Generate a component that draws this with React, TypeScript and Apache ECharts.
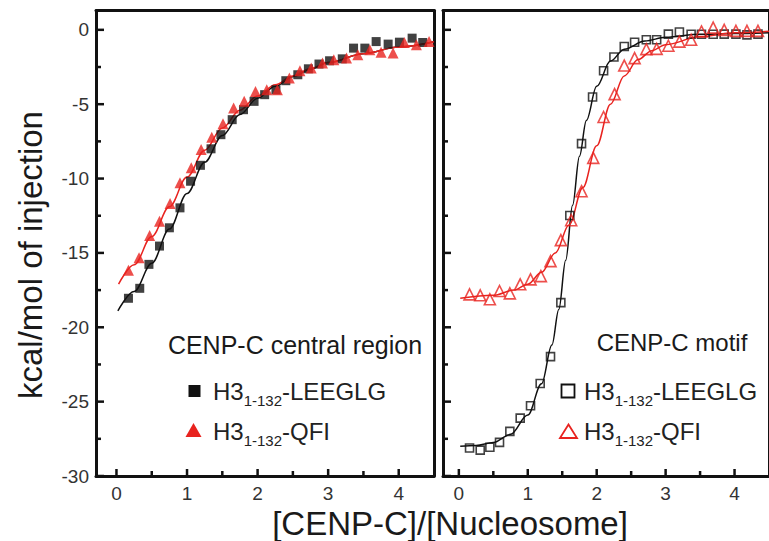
import React, { useEffect, useRef } from 'react';
import * as echarts from 'echarts';

// ---- Data ----
// Left panel: CENP-C central region
const centralLEEGLG: [number, number][] = [
  [0.17, -18.05], [0.33, -17.38], [0.46, -15.77], [0.61, -14.54], [0.75, -13.31],
  [0.9, -11.97], [1.05, -10.18], [1.19, -9.11], [1.34, -8.0], [1.48, -7.05],
  [1.64, -6.04], [1.8, -5.37], [1.95, -4.81], [2.1, -4.36], [2.26, -4.03],
  [2.4, -3.42], [2.57, -3.02], [2.72, -2.62], [2.87, -2.3], [3.02, -2.08],
  [3.2, -1.95], [3.36, -1.23], [3.52, -1.23], [3.68, -0.79], [3.85, -0.96],
  [4.01, -0.83], [4.19, -0.56], [4.34, -0.85],
];
const centralQFI: [number, number][] = [
  [0.17, -16.17], [0.32, -15.32], [0.47, -13.83], [0.61, -12.87], [0.76, -11.68],
  [0.9, -10.29], [1.06, -9.28], [1.2, -8.05], [1.35, -7.23], [1.51, -6.31],
  [1.66, -5.26], [1.81, -4.81], [1.97, -4.14], [2.13, -4.03], [2.28, -4.03],
  [2.45, -3.24], [2.6, -2.75], [2.76, -2.57], [2.92, -2.23], [3.08, -2.01],
  [3.26, -1.9], [3.42, -1.68], [3.59, -1.34], [3.75, -1.5], [3.92, -1.56],
  [4.08, -0.85], [4.25, -1.01], [4.43, -0.79],
];
const centralLEEGLGFit: [number, number][] = [
  [0.02, -18.9], [0.25, -17.6], [0.5, -15.7], [0.75, -13.4], [1.0, -11.0],
  [1.25, -8.9], [1.5, -7.1], [1.75, -5.7], [2.0, -4.6], [2.25, -3.8],
  [2.5, -3.15], [2.75, -2.65], [3.0, -2.2], [3.5, -1.6], [4.0, -1.15], [4.5, -0.8],
];
const centralQFIFit: [number, number][] = [
  [0.03, -17.1], [0.25, -15.8], [0.5, -13.9], [0.75, -11.9], [1.0, -9.9],
  [1.25, -8.1], [1.5, -6.6], [1.75, -5.4], [2.0, -4.45], [2.25, -3.7],
  [2.5, -3.1], [2.75, -2.6], [3.0, -2.2], [3.5, -1.6], [4.0, -1.15], [4.5, -0.8],
];

// Right panel: CENP-C motif
const motifLEEGLG: [number, number][] = [
  [0.155, -28.12], [0.31, -28.26], [0.45, -28.07], [0.59, -27.74], [0.74, -27.0],
  [0.89, -26.11], [1.04, -25.28], [1.18, -23.78], [1.33, -21.97], [1.48, -18.34],
  [1.61, -12.48], [1.78, -7.65], [1.94, -4.52], [2.1, -2.75], [2.25, -1.83],
  [2.4, -1.12], [2.55, -0.83], [2.72, -0.67], [2.87, -0.67], [3.04, -0.29],
  [3.2, -0.15], [3.37, -0.3], [3.52, -0.3], [3.69, -0.3], [3.85, -0.29],
  [4.02, -0.29], [4.18, -0.34], [4.34, -0.29],
];
const motifQFI: [number, number][] = [
  [0.155, -17.79], [0.31, -17.85], [0.45, -18.12], [0.59, -17.56], [0.74, -17.72],
  [0.89, -17.11], [1.04, -16.78], [1.19, -16.56], [1.33, -15.55], [1.48, -14.14],
  [1.63, -12.8], [1.78, -10.85], [1.95, -8.61], [2.1, -5.86], [2.26, -4.32],
  [2.4, -2.4], [2.55, -1.9], [2.72, -1.3], [2.87, -1.28], [3.04, -1.07],
  [3.2, -0.79], [3.37, -0.67], [3.52, -0.11], [3.69, 0.15], [3.85, 0.0],
  [4.02, -0.07], [4.18, -0.07], [4.34, -0.07],
];
const motifLEEGLGFit: [number, number][] = [
  [0.02, -28.0], [0.25, -27.95], [0.5, -27.75], [0.75, -27.2], [1.0, -25.9],
  [1.2, -23.8], [1.35, -21.2], [1.45, -18.8], [1.55, -15.5], [1.65, -11.8],
  [1.75, -8.5], [1.85, -6.1], [2.0, -3.8], [2.2, -2.1], [2.4, -1.3],
  [2.7, -0.75], [3.0, -0.5], [3.5, -0.3], [4.0, -0.25], [4.5, -0.2],
];
const motifQFIFit: [number, number][] = [
  [0.02, -18.05], [0.5, -17.85], [0.8, -17.5], [1.0, -17.1], [1.2, -16.3],
  [1.4, -15.0], [1.6, -13.1], [1.8, -10.6], [2.0, -7.8], [2.2, -5.0],
  [2.4, -3.1], [2.6, -2.0], [2.8, -1.4], [3.0, -1.0], [3.5, -0.45],
  [4.0, -0.2], [4.5, -0.1],
];

// Tick values
const xMajorTicks = [0, 1, 2, 3, 4];
const xMinorTicks = [0.5, 1.5, 2.5, 3.5];
const yMajorTicks = [0, -5, -10, -15, -20, -25, -30];
const yMinorTicks = [-2.5, -7.5, -12.5, -17.5, -22.5, -27.5];

const xTitle = '[CENP-C]/[Nucleosome]';
const yTitle = 'kcal/mol of injection';
const leftLabel = 'CENP-C central region';
const rightLabel = 'CENP-C motif';

const FONT = '"Liberation Sans", Arial, Helvetica, sans-serif';
const BLACK = '#111111';
const RED = '#e8231f';

const Y_MIN = -30;
const Y_MAX = 1.3;
const X_MAX = 4.5;
const LEFT_X_MIN = -0.29;
const RIGHT_X_MIN = -0.23;

// tick items: [value, kind (0 = x, 1 = y), length in px]
function tickData() {
  const out: number[][] = [];
  xMajorTicks.forEach((v) => out.push([v, 0, 7]));
  xMinorTicks.forEach((v) => out.push([v, 0, 5]));
  yMajorTicks.forEach((v) => out.push([v, 1, 8]));
  yMinorTicks.forEach((v) => out.push([v, 1, 5]));
  return out;
}

function tickSeries(xIdx: number, yIdx: number, xMin: number) {
  return {
    type: 'custom',
    xAxisIndex: xIdx,
    yAxisIndex: yIdx,
    coordinateSystem: 'cartesian2d',
    data: tickData(),
    z: 10,
    renderItem: (_params: any, api: any) => {
      const v = api.value(0);
      const kind = api.value(1);
      const len = api.value(2);
      if (kind === 0) {
        const p = api.coord([v, Y_MIN]);
        return {
          type: 'line',
          shape: { x1: p[0], y1: p[1], x2: p[0], y2: p[1] - len },
          style: { stroke: BLACK, lineWidth: 2.5 },
        };
      }
      const p = api.coord([xMin, v]);
      return {
        type: 'line',
        shape: { x1: p[0], y1: p[1], x2: p[0] + len, y2: p[1] },
        style: { stroke: BLACK, lineWidth: 2.5 },
      };
    },
  };
}

function bottomXAxis(grid: number, min: number) {
  return {
    type: 'value', gridIndex: grid, position: 'bottom', min, max: X_MAX,
    axisLine: { show: true, onZero: false, lineStyle: { color: BLACK, width: 3 } },
    axisTick: { show: false },
    axisLabel: {
      show: true, customValues: xMajorTicks, color: '#333', fontSize: 19, fontFamily: FONT, margin: 8,
      formatter: (v: number) => (Number.isInteger(v) ? String(v) : ''),
    },
    splitLine: { show: false },
  };
}
function topXAxis(grid: number, min: number) {
  return {
    type: 'value', gridIndex: grid, position: 'top', min, max: X_MAX,
    axisLine: { show: true, onZero: false, lineStyle: { color: BLACK, width: 3 } },
    axisTick: { show: false },
    axisLabel: { show: false },
    splitLine: { show: false },
  };
}
function leftYAxis(grid: number, labels: boolean) {
  return {
    type: 'value', gridIndex: grid, position: 'left', min: Y_MIN, max: Y_MAX,
    axisLine: { show: true, onZero: false, lineStyle: { color: BLACK, width: 3 } },
    axisTick: { show: false },
    axisLabel: {
      show: labels, customValues: yMajorTicks, color: '#333', fontSize: 19, fontFamily: FONT, margin: 7,
      formatter: (v: number) => (v % 5 === 0 ? String(v) : ''),
    },
    splitLine: { show: false },
  };
}
function rightYAxis(grid: number) {
  return {
    type: 'value', gridIndex: grid, position: 'right', min: Y_MIN, max: Y_MAX,
    axisLine: { show: true, onZero: false, lineStyle: { color: BLACK, width: 3 } },
    axisTick: { show: false },
    axisLabel: { show: false },
    splitLine: { show: false },
  };
}

const legendRich = {
  n: { fontSize: 24, lineHeight: 34, fontFamily: FONT, color: '#222' },
  s: { fontSize: 15, lineHeight: 15, fontFamily: FONT, color: '#222', verticalAlign: 'bottom' },
};

function label(x: number, y: number, text: string, size: number, align = 'left', rotation = 0) {
  return {
    type: 'text', x, y, rotation,
    style: {
      text, fontSize: size, fontFamily: FONT, fill: '#1a1a1a',
      align, textAlign: align, verticalAlign: 'middle', textVerticalAlign: 'middle',
    },
    z: 100,
  };
}
function legendText(x: number, y: number, suffix: string) {
  return {
    type: 'text', x, y,
    style: {
      text: `{n|H3}{s|1-132}{n|-${suffix}}`, rich: legendRich,
      align: 'left', textAlign: 'left', verticalAlign: 'middle', textVerticalAlign: 'middle',
      fill: '#222',
    },
    z: 100,
  };
}

export default function App() {
  const ref = useRef<HTMLDivElement>(null);
  useEffect(() => {
    if (!ref.current) return;
    const chart = echarts.init(ref.current, null, { renderer: 'svg' });
    const option: any = {
      animation: false,
      backgroundColor: '#ffffff',
      grid: [
        { left: 96, top: 10.5, width: 338, height: 465.5, containLabel: false },
        { left: 443, top: 10.5, width: 336, height: 465.5, containLabel: false },
      ],
      xAxis: [
        bottomXAxis(0, LEFT_X_MIN), topXAxis(0, LEFT_X_MIN),
        bottomXAxis(1, RIGHT_X_MIN), topXAxis(1, RIGHT_X_MIN),
      ],
      yAxis: [
        leftYAxis(0, true), rightYAxis(0),
        leftYAxis(1, false), rightYAxis(1),
      ],
      series: [
        tickSeries(0, 0, LEFT_X_MIN),
        tickSeries(2, 2, RIGHT_X_MIN),

        { type: 'line', name: 'central LEEGLG fit', xAxisIndex: 0, yAxisIndex: 0, data: centralLEEGLGFit,
          smooth: 0.35, smoothMonotone: 'x', symbol: 'none', lineStyle: { color: BLACK, width: 1.5 }, z: 2 },
        { type: 'line', name: 'central QFI fit', xAxisIndex: 0, yAxisIndex: 0, data: centralQFIFit,
          smooth: 0.35, smoothMonotone: 'x', symbol: 'none', lineStyle: { color: RED, width: 1.5 }, z: 2 },
        { type: 'scatter', name: 'central LEEGLG', xAxisIndex: 0, yAxisIndex: 0, data: centralLEEGLG,
          symbol: 'rect', symbolSize: 9, itemStyle: { color: BLACK }, z: 3 },
        { type: 'scatter', name: 'central QFI', xAxisIndex: 0, yAxisIndex: 0, data: centralQFI,
          symbol: 'triangle', symbolSize: 11, itemStyle: { color: RED }, z: 4 },

        { type: 'line', name: 'motif LEEGLG fit', xAxisIndex: 2, yAxisIndex: 2, data: motifLEEGLGFit,
          smooth: 0.35, smoothMonotone: 'x', symbol: 'none', lineStyle: { color: BLACK, width: 1.5 }, z: 2 },
        { type: 'line', name: 'motif QFI fit', xAxisIndex: 2, yAxisIndex: 2, data: motifQFIFit,
          smooth: 0.35, smoothMonotone: 'x', symbol: 'none', lineStyle: { color: RED, width: 1.5 }, z: 2 },
        { type: 'scatter', name: 'motif LEEGLG', xAxisIndex: 2, yAxisIndex: 2, data: motifLEEGLG,
          symbol: 'rect', symbolSize: 8, itemStyle: { color: 'rgba(255,255,255,0)', borderColor: BLACK, borderWidth: 1.6 }, z: 3 },
        { type: 'scatter', name: 'motif QFI', xAxisIndex: 2, yAxisIndex: 2, data: motifQFI,
          symbol: 'triangle', symbolSize: 11, itemStyle: { color: 'rgba(255,255,255,0)', borderColor: RED, borderWidth: 1.6 }, z: 4 },
      ],
      graphic: [
        label(30, 255, yTitle, 33, 'center', Math.PI / 2),
        label(450, 523, xTitle, 33, 'center'),
        label(295, 345, leftLabel, 25, 'center'),
        label(672, 342, rightLabel, 24, 'center'),
        { type: 'rect', shape: { x: 188.5, y: 385, width: 12, height: 12 }, style: { fill: BLACK }, z: 100 },
        { type: 'polygon', shape: { points: [[193.5, 423], [201.5, 437], [185.5, 437]] }, style: { fill: RED }, z: 100 },
        legendText(213, 391, 'LEEGLG'),
        legendText(213, 431, 'QFI'),
        { type: 'rect', shape: { x: 561.5, y: 384.5, width: 13, height: 13 },
          style: { fill: 'none', stroke: BLACK, lineWidth: 1.8 }, z: 100 },
        { type: 'polygon', shape: { points: [[568.5, 424.5], [577, 438], [560, 438]] },
          style: { fill: 'none', stroke: RED, lineWidth: 1.8 }, z: 100 },
        legendText(584, 391, 'LEEGLG'),
        legendText(584, 431, 'QFI'),
      ],
    };
    chart.setOption(option);
    return () => chart.dispose();
  }, []);
  return (
    <div
      ref={ref}
      style={{ position: 'fixed', left: 0, top: 0, width: 769, height: 541, background: '#fff' }}
    />
  );
}
